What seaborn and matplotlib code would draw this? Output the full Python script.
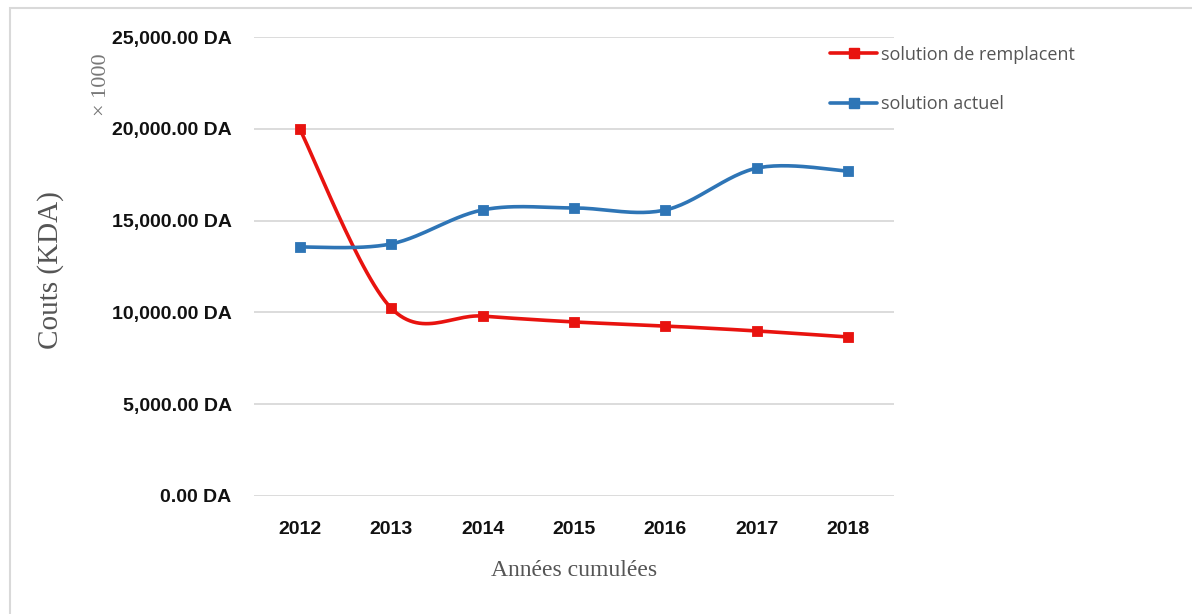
import numpy as np
import matplotlib
matplotlib.use("Agg")
import matplotlib.pyplot as plt
import seaborn as sns
from matplotlib.lines import Line2D
from matplotlib.patches import Rectangle

years = ["2012", "2013", "2014", "2015", "2016", "2017", "2018"]
remplacent = [20000, 10240, 9800, 9480, 9260, 8990, 8660]
actuel = [13560, 13730, 15580, 15690, 15580, 17860, 17700]
yticks = [0, 5000, 10000, 15000, 20000, 25000]

red = "#e8130f"
blue = "#2e75b6"


def smooth(xs, ys, n=30):
    # Excel-style smoothed line (Catmull-Rom through the points)
    xs = np.asarray(xs, float)
    ys = np.asarray(ys, float)
    px = np.r_[xs[0], xs, xs[-1]]
    py = np.r_[ys[0], ys, ys[-1]]
    ox, oy = [], []
    t = np.linspace(0, 1, n)
    for i in range(1, len(px) - 2):
        for p, out in ((px, ox), (py, oy)):
            p0, p1, p2, p3 = p[i - 1], p[i], p[i + 1], p[i + 2]
            out.extend(0.5 * (2 * p1 + (-p0 + p2) * t
                              + (2 * p0 - 5 * p1 + 4 * p2 - p3) * t ** 2
                              + (-p0 + 3 * p1 - 3 * p2 + p3) * t ** 3))
    return np.array(ox), np.array(oy)


sns.set_style("white")
fig = plt.figure(figsize=(11.92, 6.14), dpi=100)
fig.patches.append(Rectangle((0.008, -0.01), 1.2, 0.997, transform=fig.transFigure,
                             fill=False, edgecolor="#d9d9d9", linewidth=1.5))
ax = fig.add_axes([0.213, 0.1922, 0.537, 0.7475])

x = np.arange(len(years))
for vals, col in ((remplacent, red), (actuel, blue)):
    sx, sy = smooth(x, vals)
    sns.lineplot(x=sx, y=sy, ax=ax, color=col, linewidth=2.6, sort=False,
                 estimator=None)
    sns.scatterplot(x=x, y=vals, ax=ax, color=col, marker="s", s=55,
                    edgecolor=col, zorder=3)

ax.set_xlim(-0.5, len(years) - 0.5)
ax.set_ylim(0, 25000)
ax.set_yticks(yticks)
ax.set_yticklabels([f"{v:,.2f} DA" for v in yticks])
ax.set_xticks(x)
ax.set_xticklabels(years)
ax.grid(axis="y", color="#d9d9d9", linewidth=1.3)
ax.grid(axis="x", visible=False)
for s in ax.spines.values():
    s.set_visible(False)
ax.tick_params(length=0, pad=16, axis="y")
ax.tick_params(length=0, pad=18, axis="x")
for lab in ax.get_yticklabels() + ax.get_xticklabels():
    lab.set_family("Liberation Sans")
    lab.set_fontweight("bold")
    lab.set_fontsize(14)
    lab.set_color("#111111")

ax.set_xlabel("Années cumulées", family="Liberation Serif", fontsize=17,
              color="#555555", labelpad=16)
fig.text(0.042, 0.56, "Couts (KDA)", rotation=90, family="Liberation Serif",
         fontsize=21, color="#555555", ha="center", va="center")
fig.text(0.085, 0.862, "× 1000", rotation=90, family="Liberation Serif",
         fontsize=16, color="#777777", ha="center", va="center")

handles = [Line2D([], [], color=red, lw=2.6, marker="s", markersize=7.5),
           Line2D([], [], color=blue, lw=2.6, marker="s", markersize=7.5)]
fig.legend(handles, ["solution de remplacent", "solution actuel"],
           loc="upper left", bbox_to_anchor=(0.683, 0.952), frameon=False,
           handlelength=2.6, handletextpad=0.2, labelspacing=1.75,
           prop={"family": "Open Sans", "size": 13}, labelcolor="#555555")

fig.savefig("out.png", dpi=100)
